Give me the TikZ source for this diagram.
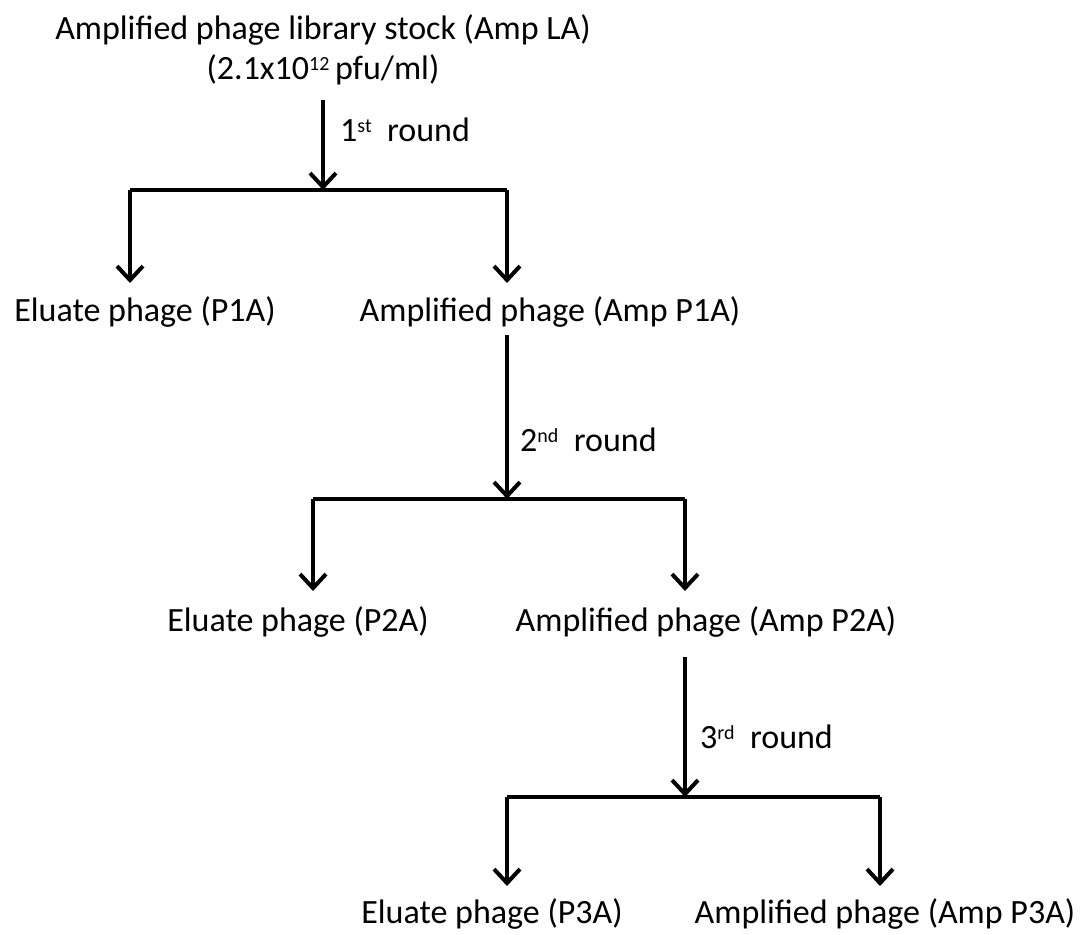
\documentclass[tikz,border=0pt]{standalone}
\usepackage{fontspec}
\setmainfont{Carlito}
\usetikzlibrary{arrows.meta}
\newcommand{\supx}[1]{\raisebox{9pt}{\fontsize{20}{20}\selectfont #1}}
\begin{document}
\begin{tikzpicture}[x=1pt,y=-1pt,
  lbl/.style={inner sep=0pt,font=\fontsize{34}{40}\selectfont},
  conn/.style={line width=4pt},
  arr/.style={conn,-{Straight Barb[length=14pt,width=26pt,line width=4pt]}},
  ]
\useasboundingbox (0,0) rectangle (1081,934);
\node[lbl,align=center] (top) at (323,50) {Amplified phage library stock (Amp LA)\\(2.1x10\supx{12}\,pfu/ml)};
\coordinate (b1) at (323,190);
\coordinate (b1l) at (130,190);
\coordinate (b1r) at (507,190);
\draw[arr] (323,100) -- (b1);
\node[lbl,anchor=west] (r1) at (340,130) {1\supx{st}~ round};
\draw[conn,line join=round] (b1l) -- (b1r);
\node[lbl] (e1) at (145,312) {Eluate phage (P1A)};
\node[lbl] (a1) at (550,312) {Amplified phage (Amp P1A)};
\draw[arr] (b1l) -- (130,283);
\draw[arr] (b1r) -- (507,283);

\coordinate (b2) at (507,499);
\coordinate (b2l) at (313,499);
\coordinate (b2r) at (685,499);
\draw[arr] (507,335) -- (b2);
\node[lbl,anchor=west] (r2) at (520,440) {2\supx{nd}~ round};
\draw[conn] (b2l) -- (b2r);
\node[lbl] (e2) at (298,622) {Eluate phage (P2A)};
\node[lbl] (a2) at (706,622) {Amplified phage (Amp P2A)};
\draw[arr] (b2l) -- (313,591);
\draw[arr] (b2r) -- (685,591);

\coordinate (b3) at (685,797);
\coordinate (b3l) at (507,797);
\coordinate (b3r) at (880,797);
\draw[arr] (685,657) -- (b3);
\node[lbl,anchor=west] (r3) at (700,737) {3\supx{rd}~ round};
\draw[conn] (b3l) -- (b3r);
\node[lbl] (e3) at (492,914) {Eluate phage (P3A)};
\node[lbl] (a3) at (885,914) {Amplified phage (Amp P3A)};
\draw[arr] (b3l) -- (507,886);
\draw[arr] (b3r) -- (880,886);
\end{tikzpicture}
\end{document}
